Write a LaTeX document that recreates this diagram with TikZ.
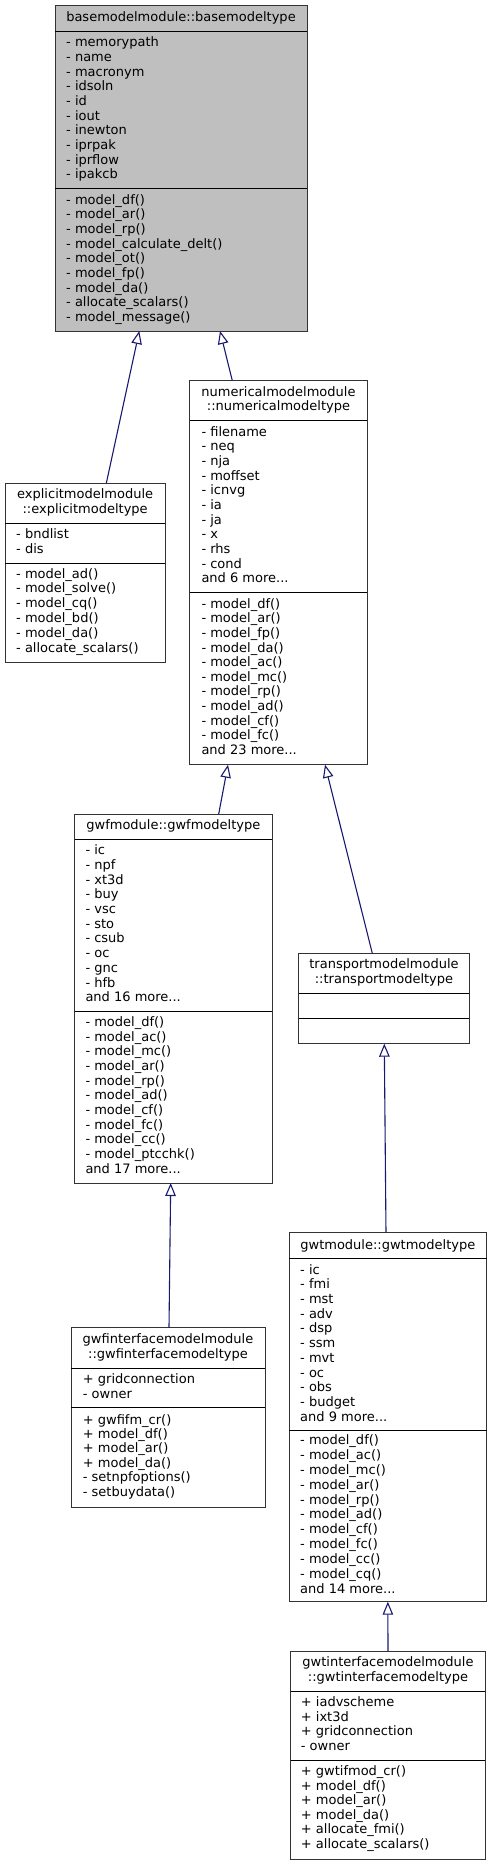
\documentclass[tikz,border=0pt]{standalone}
\usepackage{fontspec}
\setmainfont{DejaVu Sans}
\usetikzlibrary{arrows.meta}
\definecolor{edgeblue}{HTML}{191970}
\definecolor{rootgrey}{HTML}{BFBFBF}
\newcommand{\threedots}{...}
\tikzset{
  classbox/.style={draw=black!80, line width=1pt, fill=white, anchor=north west, inner sep=0pt, outer sep=0pt},
  sepline/.style={draw=black, line width=1pt},
  txt/.style={anchor=base west, inner sep=0pt, font=\fontsize{13}{14.65}\selectfont},
  ttl/.style={anchor=base, inner sep=0pt, font=\fontsize{13}{14.65}\selectfont},
  inherit/.style={draw=edgeblue, line width=1.1pt, {Triangle[open, length=13pt, width=10.5pt]}-}
}
\newcommand{\cdlines}[5]{%
  \foreach \lbl [count=\i] in {#5} {
    \node[txt] (#1-\i) at (#2, {#3+(\i-1)*#4}) {\lbl};
  }%
}
\newcommand{\cdbox}[7]{% name, x1, y1, x2, y2, sep1, sep2
  \node[classbox, minimum width={(#4-#2)*1pt}, minimum height={(#5-#3)*1pt}] (#1) at (#2,#3) {};
  \draw[sepline] (#2,#6) -- (#4,#6);
  \draw[sepline] (#2,#7) -- (#4,#7);
}
\begin{document}
\begin{tikzpicture}[x=1pt, y=-1pt]
\useasboundingbox (0,0) rectangle (492,1865);
\fill[white] (0,0) rectangle (492,1865);

% base
\node[classbox, fill=rootgrey, minimum width=252pt, minimum height=325.3pt] (base) at (55,5.7) {};
\draw[sepline] (55,31.7) -- (307,31.7);
\draw[sepline] (55,188.7) -- (307,188.7);
\node[ttl] (base-t) at (181,21.3) {basemodelmodule::basemodeltype};
\cdlines{base-a}{66}{46.7}{14.67}{- memorypath,- name,- macronym,- idsoln,- id,- iout,- inewton,- iprpak,- iprflow,- ipakcb}
\cdlines{base-m}{66}{204.3}{14.63}{- model\_df(),- model\_ar(),- model\_rp(),- model\_calculate\_delt(),- model\_ot(),- model\_fp(),- model\_da(),- allocate\_scalars(),- model\_message()}

% numerical
\cdbox{num}{189.7}{380.7}{367.3}{764.7}{420.7}{592.3}
\node[ttl] (num-t1) at (278.5,396) {numericalmodelmodule};
\node[ttl] (num-t2) at (278.5,410.6) {::numericalmodeltype};
\cdlines{num-a}{201.3}{436.3}{14.64}{- filename,- neq,- nja,- moffset,- icnvg,- ia,- ja,- x,- rhs,- cond,and 6 more\threedots}
\cdlines{num-m}{201.3}{608.3}{14.6}{- model\_df(),- model\_ar(),- model\_fp(),- model\_da(),- model\_ac(),- model\_mc(),- model\_rp(),- model\_ad(),- model\_cf(),- model\_fc(),and 23 more\threedots}

% explicit
\cdbox{expl}{5}{483.3}{165.3}{662}{523.3}{563}
\node[ttl] (expl-t1) at (85.15,498.4) {explicitmodelmodule};
\node[ttl] (expl-t2) at (85.15,513) {::explicitmodeltype};
\cdlines{expl-a}{16}{538.3}{14.8}{- bndlist,- dis}
\cdlines{expl-m}{16}{578}{14.8}{- model\_ad(),- model\_solve(),- model\_cq(),- model\_bd(),- model\_da(),- allocate\_scalars()}

% gwf
\cdbox{gwf}{74.7}{814}{272}{1183}{839.3}{1011}
\node[ttl] (gwf-t) at (173.35,829.7) {gwfmodule::gwfmodeltype};
\cdlines{gwf-a}{85.3}{854.7}{14.7}{- ic,- npf,- xt3d,- buy,- vsc,- sto,- csub,- oc,- gnc,- hfb,and 16 more\threedots}
\cdlines{gwf-m}{85.3}{1026.3}{14.7}{- model\_df(),- model\_ac(),- model\_mc(),- model\_ar(),- model\_rp(),- model\_ad(),- model\_cf(),- model\_fc(),- model\_cc(),- model\_ptcchk(),and 17 more\threedots}

% transport
\cdbox{trn}{298.7}{953.3}{469.3}{1043.7}{993}{1018.7}
\node[ttl] (trn-t1) at (384,968.5) {transportmodelmodule};
\node[ttl] (trn-t2) at (384,983.1) {::transportmodeltype};

% gwt
\cdbox{gwt}{289}{1232.7}{486.7}{1601.7}{1258.3}{1430}
\node[ttl] (gwt-t) at (387.85,1249) {gwtmodule::gwtmodeltype};
\cdlines{gwt-a}{300}{1274}{14.73}{- ic,- fmi,- mst,- adv,- dsp,- ssm,- mvt,- oc,- obs,- budget,and 9 more\threedots}
\cdlines{gwt-m}{300}{1444.7}{14.83}{- model\_df(),- model\_ac(),- model\_mc(),- model\_ar(),- model\_rp(),- model\_ad(),- model\_cf(),- model\_fc(),- model\_cc(),- model\_cq(),and 14 more\threedots}

% gwf interface
\cdbox{gwfi}{71}{1327.5}{265}{1507}{1368}{1407.7}
\node[ttl] (gwfi-t1) at (168,1343.7) {gwfinterfacemodelmodule};
\node[ttl] (gwfi-t2) at (168,1358.3) {::gwfinterfacemodeltype};
\cdlines{gwfi-a}{82.7}{1383.3}{15}{+ gridconnection,- owner}
\cdlines{gwfi-m}{82.7}{1424}{14.4}{+ gwfifm\_cr(),+ model\_df(),+ model\_ar(),+ model\_da(),- setnpfoptions(),- setbuydata()}

% gwt interface
\cdbox{gwti}{290.7}{1651.3}{485.3}{1859.3}{1691.7}{1760.7}
\node[ttl] (gwti-t1) at (388,1666.4) {gwtinterfacemodelmodule};
\node[ttl] (gwti-t2) at (388,1681) {::gwtinterfacemodeltype};
\cdlines{gwti-a}{300.7}{1706.3}{14.8}{+ iadvscheme,+ ixt3d,+ gridconnection,- owner}
\cdlines{gwti-m}{300.7}{1775.7}{14.5}{+ gwtifmod\_cr(),+ model\_df(),+ model\_ar(),+ model\_da(),+ allocate\_fmi(),+ allocate\_scalars()}

% inheritance edges
\draw[inherit] ([xshift=-41.7pt]base.south) -- ([xshift=21.15pt]expl.north);
\draw[inherit] ([xshift=39pt]base.south) -- ([xshift=-46.2pt]num.north);
\draw[inherit] ([xshift=-50.5pt]num.south) -- ([xshift=45.35pt]gwf.north);
\draw[inherit] ([xshift=46.5pt]num.south) -- ([xshift=-11.7pt]trn.north);
\draw[inherit] ([xshift=-2.65pt]gwf.south) -- ([xshift=1pt]gwfi.north);
\draw[inherit] ([xshift=0.3pt]trn.south) -- ([xshift=-1.85pt]gwt.north);
\draw[inherit] ([xshift=0pt]gwt.south) -- ([xshift=0pt]gwti.north);
\end{tikzpicture}
\end{document}
